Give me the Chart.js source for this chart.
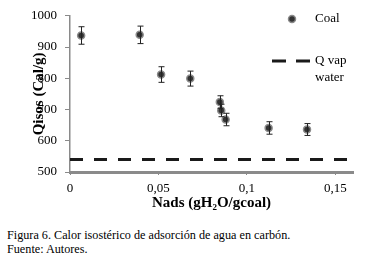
<!DOCTYPE html>
<html>
<head>
    <meta charset="UTF-8">
    <title>Calor isostérico</title>
    <style>
        body { margin: 0; background: #fff; }
        #wrap { position: relative; width: 367px; height: 264px; }
        #box { position: absolute; left: 0; top: 0; width: 367px; height: 213px; }
        #caption { position: absolute; left: 7px; top: 229px; font-family: 'Liberation Serif'; font-size: 12.2px; line-height: 13.5px; color: #000; }
    </style>
    <script src="https://cdnjs.cloudflare.com/ajax/libs/Chart.js/4.4.1/chart.umd.min.js"></script>
</head>
<body>
<div id="wrap">
    <div id="box"><canvas id="qChart"></canvas></div>
    <div id="caption">Figura 6. Calor isostérico de adsorción de agua en carbón.<br>Fuente: Autores.</div>
</div>
<script>
    // values
    const nads = [0.0063, 0.0394, 0.0515, 0.068, 0.0847, 0.0855, 0.088, 0.1123, 0.134];
    const qisos = [937, 939, 812, 799, 724, 697, 668, 641, 636];
    const qErr = [28, 28, 25, 24, 20, 20, 20, 20, 19];
    const qVapX = [0, 0.16];
    const qVap = 540;
    const xTicks = [0, 0.05, 0.1, 0.15];

    const serif = "'Liberation Serif'";

    // error bars drawn through the scales
    const errorBars = {
        id: "errorBars",
        afterDatasetsDraw(chart) {
            const c = chart.ctx, xs = chart.scales.x, ys = chart.scales.y;
            c.save();
            c.strokeStyle = "#222";
            c.lineWidth = 1;
            nads.forEach((x, i) => {
                const px = Math.round(xs.getPixelForValue(x)) + 0.5;
                const top = ys.getPixelForValue(qisos[i] + qErr[i]);
                const bot = ys.getPixelForValue(qisos[i] - qErr[i]);
                c.beginPath();
                c.moveTo(px, top); c.lineTo(px, bot);
                c.moveTo(px - 3, top); c.lineTo(px + 3, top);
                c.moveTo(px - 3, bot); c.lineTo(px + 3, bot);
                c.stroke();
            });
            c.restore();
        }
    };

    // legend sitting inside the plot, top right
    const sideLegend = {
        id: "sideLegend",
        afterDraw(chart) {
            const c = chart.ctx;
            const d0 = chart.data.datasets[0], d1 = chart.data.datasets[1];
            c.save();
            c.fillStyle = d0.backgroundColor;
            c.strokeStyle = d0.borderColor;
            c.lineWidth = d0.borderWidth;
            c.beginPath();
            c.arc(292, 19, d0.pointRadius, 0, Math.PI * 2);
            c.fill(); c.stroke();

            c.strokeStyle = d1.borderColor;
            c.lineWidth = d1.borderWidth;
            c.setLineDash([14, 10]);
            c.beginPath();
            c.moveTo(272, 61); c.lineTo(310, 61);
            c.stroke();
            c.setLineDash([]);

            c.fillStyle = "#000";
            c.font = "13px " + serif;
            c.textBaseline = "middle";
            c.fillText("Coal", 315, 19);
            c.fillText("Q vap", 315, 61);
            c.fillText("water", 315, 78);
            c.restore();
        }
    };

    function drawChart() {
        const ctx = document.getElementById("qChart").getContext("2d");
        new Chart(ctx, {
            type: "scatter",
            data: {
                datasets: [
                    {
                        label: "Coal",
                        data: nads.map((x, i) => ({ x: x, y: qisos[i] })),
                        pointRadius: 3.5,
                        backgroundColor: "#333",
                        borderColor: "#8a8a8a",
                        borderWidth: 1.5,
                    },
                    {
                        label: "Q vap water",
                        type: "line",
                        data: qVapX.map(x => ({ x: x, y: qVap })),
                        borderColor: "#1a1a1a",
                        borderWidth: 3,
                        borderDash: [13, 11],
                        pointRadius: 0,
                        fill: false,
                    },
                ],
            },
            options: {
                responsive: true,
                maintainAspectRatio: false,
                animation: false,
                layout: { padding: { top: 11, right: 14, left: 0, bottom: 0 } },
                plugins: { legend: { display: false }, tooltip: { enabled: false } },
                scales: {
                    x: {
                        type: "linear",
                        min: 0,
                        max: 0.16,
                        afterBuildTicks: s => { s.ticks = xTicks.map(v => ({ value: v })); },
                        afterFit: s => { s.height = 41; },
                        ticks: {
                            color: "#000",
                            font: { family: serif, size: 13 },
                            padding: 6,
                            maxRotation: 0,
                            callback: v => String(v).replace(".", ","),
                        },
                        grid: { display: true, drawOnChartArea: false, drawTicks: true, tickLength: 3, color: "#8a8a8a" },
                        border: { color: "#8a8a8a", width: 3 },
                        title: {
                            display: true,
                            text: "Nads (gH₂O/gcoal)",
                            color: "#000",
                            font: { family: serif, size: 15, weight: "bold" },
                            padding: { top: 0, bottom: 1 },
                        },
                    },
                    y: {
                        min: 500,
                        max: 1000,
                        afterFit: s => { s.width = 70; },
                        ticks: {
                            stepSize: 100,
                            color: "#000",
                            font: { family: serif, size: 13 },
                            padding: 8,
                            callback: v => String(v),
                        },
                        grid: { display: true, drawOnChartArea: false, drawTicks: true, tickLength: 5, color: "#8a8a8a" },
                        border: { color: "#8a8a8a", width: 1.5 },
                        title: {
                            display: true,
                            text: "Qisos (Cal/g)",
                            color: "#000",
                            font: { family: serif, size: 15, weight: "bold" },
                            padding: { top: 30, bottom: 0 },
                        },
                    },
                },
            },
            plugins: [errorBars, sideLegend],
        });
    }

    Promise.all([
        document.fonts.load("13px 'Liberation Serif'"),
        document.fonts.load("bold 15px 'Liberation Serif'"),
    ]).then(drawChart, drawChart);
</script>
</body>
</html>
